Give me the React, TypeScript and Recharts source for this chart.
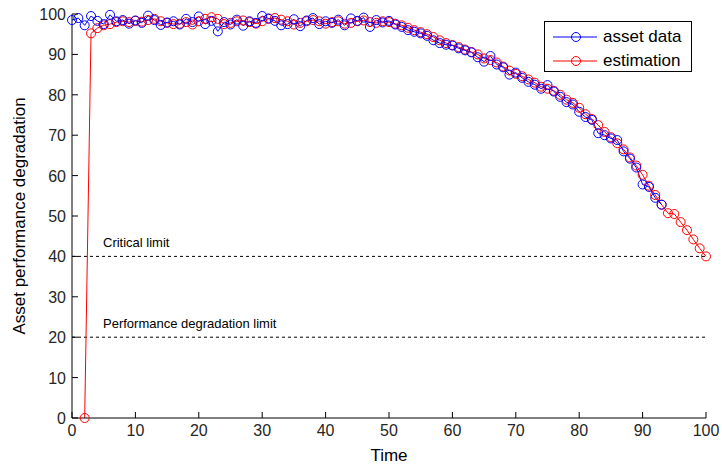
import React from 'react';
import { LineChart, Line, XAxis, YAxis, ReferenceLine } from 'recharts';

const assetStart = 0;
const assetData = [
  98.5, 99, 97.2, 99.5, 98.3, 97.5, 99.8, 98.2, 98.5, 97.6,
  98.4, 97.8, 99.6, 98.5, 97.3, 97.9, 98.2, 97.4, 98.8, 98,
  99.4, 97.5, 98.3, 95.7, 98, 97.4, 98.6, 97.1, 98.2, 97.8,
  99.5, 98.9, 98.3, 97.2, 97.5, 98.7, 97, 98.4, 99, 97.5,
  98.2, 97.8, 98.6, 97.2, 98.9, 98.3, 99.1, 96.8, 98.5, 97.9,
  98.3, 97.4, 96.8, 96, 95.6, 95.2, 94.6, 93.5, 92.8, 92.4,
  92.2, 91.5, 91, 90.5, 89.3, 88.2, 89.6, 87.5, 86.8, 85,
  85.5, 84.2, 83.2, 82.5, 81.5, 82.4, 80.8, 79.5, 78.2, 77.6,
  75.8, 74.5, 73.8, 70.5, 70, 69.2, 68.8, 66, 64.2, 62,
  57.8, 57.2, 54.5, 52.8,
];

const estimationStart = 2;
const estimationData = [
  0, 95.2, 96.5, 97.2, 97.5, 98, 98.2, 98, 98.3, 98.1,
  98.5, 98.8, 98.2, 97.8, 97.5, 97.6, 98, 97.4, 98.2, 98.8,
  99.2, 98.8, 97.5, 97.8, 98.2, 98.4, 98, 97.6, 98.2, 98.8,
  99, 98.6, 98.2, 97.4, 97.8, 98.2, 98.5, 98.2, 97.6, 98,
  98.2, 97.6, 97.8, 98.2, 98.4, 98, 97.8, 98.2, 98, 97.6,
  97.2, 96.6, 96, 95.5, 95, 94.3, 93.5, 92.8, 92.3, 91.8,
  91.2, 90.6, 90, 89, 88.6, 88, 87, 86, 85.2, 84.6,
  83.8, 83, 82, 81.5, 81, 80, 78.8, 78, 76.8, 75.2,
  74, 72.5, 70.8, 69.5, 68, 66.5, 64.5, 62.5, 60.2, 57.5,
  55.2, 52.8, 50.7, 50.5, 48.5, 46.5, 44.2, 42, 40,
];

const xTicks = [0, 10, 20, 30, 40, 50, 60, 70, 80, 90, 100];
const yTicks = [0, 10, 20, 30, 40, 50, 60, 70, 80, 90, 100];
const criticalLimit = 40;
const performanceLimit = 20;

const assetSeries = assetData.map((v, i) => ({ t: assetStart + i, v }));
const estimationSeries = estimationData.map((v, i) => ({ t: estimationStart + i, v }));

const FONT = '"Liberation Sans", Arial, sans-serif';
const BLUE = '#0000ff';
const RED = '#ff0000';

const XTick = (props: any) => {
  const { x, y, payload } = props;
  return (
    <g>
      <line x1={x} y1={y} x2={x} y2={y - 6} stroke="#000" />
      <text x={x} y={y + 18} textAnchor="middle" fontSize={16} fontFamily={FONT} fill="#262626">
        {payload.value}
      </text>
    </g>
  );
};

const YTick = (props: any) => {
  const { x, y, payload } = props;
  return (
    <g>
      <line x1={x} y1={y} x2={x + 6} y2={y} stroke="#000" />
      <text x={x - 6} y={y + 6} textAnchor="end" fontSize={16} fontFamily={FONT} fill="#262626">
        {payload.value}
      </text>
    </g>
  );
};

const limitLabel = (text: string) => (props: any) => {
  const vb = props.viewBox || {};
  return (
    <text x={(vb.x ?? 72) + 31} y={(vb.y ?? 0) - 9} fontSize={13} fontFamily={FONT} fill="#000">
      {text}
    </text>
  );
};

export default function App() {
  return (
    <div style={{ position: 'absolute', left: 0, top: 0, width: 722, height: 466, background: '#fff' }}>
      <LineChart width={722} height={466} margin={{ top: 14, right: 16, bottom: 0, left: 0 }}>
        <XAxis
          type="number"
          dataKey="t"
          domain={[0, 100]}
          ticks={xTicks}
          allowDuplicatedCategory={false}
          height={48}
          tickSize={0}
          tickMargin={0}
          tickLine={false}
          tick={<XTick />}
          axisLine={{ stroke: '#000' }}
          interval={0}
        />
        <YAxis
          type="number"
          dataKey="v"
          domain={[0, 100]}
          ticks={yTicks}
          width={72}
          tickSize={0}
          tickMargin={0}
          tickLine={false}
          tick={<YTick />}
          axisLine={{ stroke: '#000' }}
          interval={0}
        />
        <ReferenceLine y={criticalLimit} stroke="#000" strokeDasharray="3 3" label={limitLabel('Critical limit')} />
        <ReferenceLine y={performanceLimit} stroke="#000" strokeDasharray="3 3" label={limitLabel('Performance degradation limit')} />
        <Line
          data={estimationSeries}
          dataKey="v"
          name="estimation"
          stroke={RED}
          strokeWidth={1}
          dot={{ r: 4.5, stroke: RED, fill: 'none', strokeWidth: 1 }}
          isAnimationActive={false}
        />
        <Line
          data={assetSeries}
          dataKey="v"
          name="asset data"
          stroke={BLUE}
          strokeWidth={1}
          dot={{ r: 4.5, stroke: BLUE, fill: 'none', strokeWidth: 1 }}
          isAnimationActive={false}
        />
        <text x={389} y={461} textAnchor="middle" fontSize={17} fontFamily={FONT} fill="#000">
          Time
        </text>
        <text
          x={25}
          y={216}
          textAnchor="middle"
          fontSize={17}
          fontFamily={FONT}
          fill="#000"
          transform="rotate(-90, 25, 216)"
        >
          Asset performance degradation
        </text>
      </LineChart>
      <div
        style={{
          position: 'absolute',
          left: 544,
          top: 21,
          width: 148,
          height: 51,
          border: '1px solid #000',
          background: '#fff',
          boxSizing: 'border-box',
          fontFamily: FONT,
          fontSize: 17,
        }}
      >
        {[
          { name: 'asset data', color: BLUE },
          { name: 'estimation', color: RED },
        ].map((item, i) => (
          <div key={item.name} style={{ position: 'absolute', left: 0, top: 4 + i * 24, height: 22, display: 'flex', alignItems: 'center' }}>
            <svg width={58} height={22} style={{ display: 'block' }}>
              <line x1={8} y1={11} x2={52} y2={11} stroke={item.color} strokeWidth={1} />
              <circle cx={31} cy={11} r={4.5} stroke={item.color} fill="none" strokeWidth={1} />
            </svg>
            <span style={{ color: '#000', whiteSpace: 'nowrap' }}>{item.name}</span>
          </div>
        ))}
      </div>
    </div>
  );
}
